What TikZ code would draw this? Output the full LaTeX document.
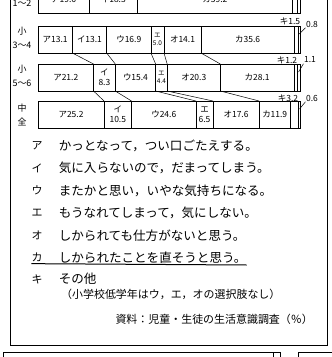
\documentclass[tikz,border=0pt]{standalone}
\usepackage{fontspec}
\setmainfont{Noto Sans CJK JP}
\usetikzlibrary{positioning}

\tikzset{
  seg/.style={draw, line width=0.6bp, minimum height=27bp, inner sep=0pt, outer sep=0pt, align=center},
  rowlab/.style={inner sep=0pt, align=center, font=\fontsize{9}{14}\selectfont},
  call/.style={inner sep=0.5pt, font=\fontsize{8.5}{10}\selectfont},
  key/.style={inner sep=0pt, font=\fontsize{11}{13}\selectfont},
  txt/.style={inner sep=0pt, anchor=west, font=\fontsize{12.6}{14}\selectfont},
  note/.style={inner sep=0pt, font=\fontsize{11}{13}\selectfont},
  lead/.style={line width=0.5bp},
  frame/.style={line width=0.8bp}
}

\begin{document}
\begin{tikzpicture}[x=1bp, y=-1bp]
        \useasboundingbox (0,0) rectangle (332,357);
        \clip (0,0) rectangle (332,357);
        \def\lb{\fontsize{8.5}{10}\selectfont}
        \def\sm{\fontsize{6.5}{8}\selectfont}
        \def\barrow#1#2#3{%
          \coordinate (#1s) at (38,#2);
          \foreach \k/\v/\t/\f [remember=\k as \p (initially s)] in {#3}
            \node[seg, font=\f, minimum width=\v*2.62bp, right=0pt of #1\p] (#1\k) {\t};}

        \barrow{r1}{-0.5}{a/19.6/ア19.6/\lb, b/18.3/イ18.3/\lb, f/59.2/カ59.2/\lb, g/2.0//\lb, h/0.9//\lb}
        \barrow{r2}{39.5}{a/13.1/ア13.1/\lb, b/13.1/イ13.1/\lb, c/16.9/ウ16.9/\lb, d/5.0/エ\\5.0/\sm,
          e/14.1/オ14.1/\lb, f/35.6/カ35.6/\lb, g/1.5//\lb, h/0.8//\lb}
        \barrow{r3}{77.5}{a/21.2/ア21.2/\lb, b/8.3/イ\\8.3/\lb, c/15.4/ウ15.4/\lb, d/4.4/エ\\4.4/\sm,
          e/20.3/オ20.3/\lb, f/28.1/カ28.1/\lb, g/1.2//\lb, h/1.1//\lb}
        \barrow{r4}{114.5}{a/25.2/ア25.2/\lb, b/10.5/イ\\10.5/\lb, c/24.6/ウ24.6/\lb, d/6.5/エ\\6.5/\lb,
          e/17.6/オ17.6/\lb, f/11.9/カ11.9/\lb, g/3.2//\lb, h/0.6//\lb}

        \foreach \k in {a,...,e} {
          \draw[lead] (r2\k.south east) -- (r3\k.north east);
          \draw[lead] (r3\k.south east) -- (r4\k.north east);
        }

        \node[rowlab] (l1) at (22,-4) {小\\1～2};
        \node[rowlab] (l2) at (22,38) {小\\3～4};
        \node[rowlab] (l3) at (22,76) {小\\5～6};
        \node[rowlab] (l4) at (22,114.5) {中\\全};

        \node[call] (g2) at (290,21.5) {キ1.5};
        \node[call] (h2) at (312,24) {0.8};
        \node[call] (g3) at (287,60) {キ1.2};
        \node[call] (h3) at (310,60) {1.1};
        \node[call] (g4) at (288,98) {キ3.2};
        \node[call] (h4) at (312,98) {0.6};
        \draw[lead] (h2.south west) -- ([yshift=-8bp]r2h.north);
        \draw[lead] (h3.south west) -- ([yshift=-8bp]r3h.north);
        \draw[lead] (h4.south west) -- ([yshift=-8bp]r4h.north);

        \foreach \k/\y/\m/\t in {a/145.5/ア/かっとなって，つい口ごたえする。,
            b/168/イ/気に入らないので，だまってしまう。,
            c/190.5/ウ/またかと思い，いやな気持ちになる。,
            d/213/エ/もうなれてしまって，気にしない。,
            e/235.5/オ/しかられても仕方がないと思う。,
            f/257.5/カ/しかられたことを直そうと思う。,
            g/279/キ/その他} {
          \node[key] (k\k) at (37,\y) {\m};
          \node[txt, right=16bp of k\k] (t\k) {\t};
        }
        \draw[line width=1bp] ([yshift=-1.5bp]kf.south west) -- ([yshift=-1.5bp]tf.south east);
        \node[note, anchor=west] (pn) at (61,294.5) {（小学校低学年はウ，エ，オの選択肢なし）};
        \node[note, anchor=east] (src) at (313,319) {資料：児童・生徒の生活意識調査（％）};

        \draw[frame] (10,-2) |- (327,345) -- (327,-2);
        \draw[frame] (3,360) |- (280,352) -- (280,360);
        \draw[frame] (273,352) -- (273,360);
        \draw[frame] (298,360) |- (336,352);
\end{tikzpicture}
\end{document}
